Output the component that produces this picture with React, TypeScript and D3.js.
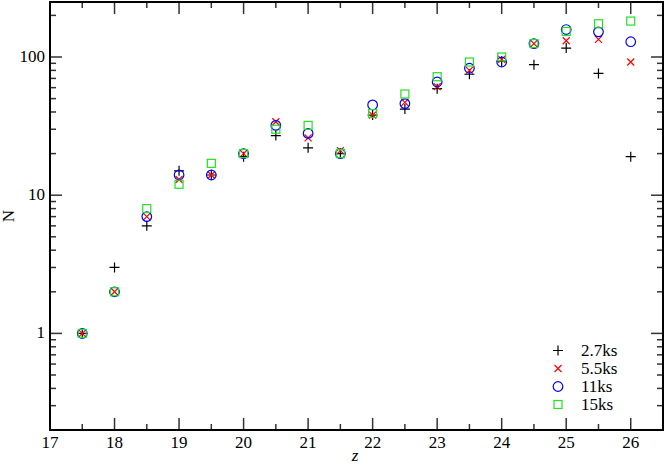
import React from 'react';
import * as d3 from 'd3';

const zBins = [17.5, 18, 18.5, 19, 19.5, 20, 20.5, 21, 21.5, 22, 22.5, 23, 23.5, 24, 24.5, 25, 25.5, 26];
const n27 = [1, 3, 6, 15, 14, 19, 27, 22, 20, 38, 42, 59, 75, 93, 88, 116, 76, 19];
const n55 = [1, 2, 7, 13, 14, 20, 34, 26, 21, 38, 47, 61, 80, 96, 125, 131, 134, 92];
const n11 = [1, 2, 7, 14, 14, 20, 32, 28, 20, 45, 46, 66, 83, 92, 125, 158, 152, 129];
const n15 = [1, 2, 8, 12, 17, 20, 30, 32, 20, 39, 54, 72, 92, 100, 125, 153, 174, 182];

const seriesNames = ['2.7ks', '5.5ks', '11ks', '15ks'];
const seriesColors = ['#000000', '#ff0000', '#0000ff', '#22e022'];
const seriesShapes = ['plus', 'cross', 'circle', 'square'];
const seriesData = [n27, n55, n11, n15];

const xTicks = [17, 18, 19, 20, 21, 22, 23, 24, 25, 26];
const yTicks = [1, 10, 100];

const W = 665;
const H = 465;
const margin = { left: 50, right: 2, top: 2, bottom: 35 };

const Marker = ({ shape, x, y, color }: { shape: string; x: number; y: number; color: string }) => {
  if (shape === 'plus') {
    return <path d={`M${x - 5},${y}H${x + 5}M${x},${y - 5}V${y + 5}`} stroke={color} strokeWidth={1.2} fill="none" />;
  }
  if (shape === 'cross') {
    return <path d={`M${x - 3.5},${y - 3.5}L${x + 3.5},${y + 3.5}M${x - 3.5},${y + 3.5}L${x + 3.5},${y - 3.5}`} stroke={color} strokeWidth={1.2} fill="none" />;
  }
  if (shape === 'circle') {
    return <circle cx={x} cy={y} r={4.8} stroke={color} strokeWidth={1.2} fill="none" />;
  }
  return <rect x={x - 4} y={y - 4} width={8} height={8} stroke={color} strokeWidth={1.2} fill="none" />;
};

export default function App() {
  const x = d3.scaleLinear().domain([17, 26.5]).range([margin.left, W - margin.right]);
  const y = d3.scaleLog().domain([0.2, 250]).range([H - margin.bottom, margin.top]);

  const minorX = d3.range(17.5, 26.5, 1);
  const minorY: number[] = [];
  [0.1, 1, 10, 100].forEach((d) => {
    for (let k = 2; k <= 9; k++) {
      const v = d * k;
      if (v >= 0.2 && v <= 250) minorY.push(v);
    }
  });

  const left = margin.left;
  const right = W - margin.right;
  const top = margin.top;
  const bottom = H - margin.bottom;
  const tickColor = '#333';

  return (
    <>
      <style>{`body { margin: 0; } .chart text { font-family: "Liberation Serif", serif; }`}</style>
      <svg className="chart" width={W} height={H} style={{ display: 'block', background: '#fff' }}>
        {/* ticks, drawn on all four sides */}
        <g stroke={tickColor} strokeWidth={1.5}>
          {xTicks.map((t) => (
            <g key={'xt' + t}>
              <line x1={x(t)} x2={x(t)} y1={bottom} y2={bottom - 12} />
              <line x1={x(t)} x2={x(t)} y1={top} y2={top + 12} />
            </g>
          ))}
          {minorX.map((t) => (
            <g key={'xm' + t}>
              <line x1={x(t)} x2={x(t)} y1={bottom} y2={bottom - 6} />
              <line x1={x(t)} x2={x(t)} y1={top} y2={top + 6} />
            </g>
          ))}
          {yTicks.map((t) => (
            <g key={'yt' + t}>
              <line x1={left} x2={left + 12} y1={y(t)} y2={y(t)} />
              <line x1={right} x2={right - 12} y1={y(t)} y2={y(t)} />
            </g>
          ))}
          {minorY.map((t) => (
            <g key={'ym' + t}>
              <line x1={left} x2={left + 6} y1={y(t)} y2={y(t)} />
              <line x1={right} x2={right - 6} y1={y(t)} y2={y(t)} />
            </g>
          ))}
        </g>
        <rect x={left} y={top} width={right - left} height={bottom - top} fill="none" stroke="#000" strokeWidth={2} />

        {/* tick labels */}
        <g fill="#000">
          {xTicks.map((t) => (
            <text key={'xl' + t} fontFamily="Liberation Serif" fontSize={17} x={x(t)} y={bottom + 18} textAnchor="middle">{t}</text>
          ))}
          {yTicks.map((t) => (
            <text key={'yl' + t} fontFamily="Liberation Serif" fontSize={17} x={left - 5} y={y(t) + 5} textAnchor="end">{t}</text>
          ))}
        </g>
        <text fontFamily="Liberation Serif" x={355} y={H - 4} fontSize={17} fontStyle="italic" textAnchor="middle">z</text>
        <text fontFamily="Liberation Serif" transform={`translate(14,${(top + bottom) / 2}) rotate(-90)`} fontSize={17} textAnchor="middle">N</text>

        {/* data */}
        {seriesData.map((vals, si) => (
          <g key={seriesNames[si]}>
            {vals.map((v, i) => (
              <Marker key={i} shape={seriesShapes[si]} x={x(zBins[i])} y={y(v)} color={seriesColors[si]} />
            ))}
          </g>
        ))}

        {/* legend */}
        {seriesNames.map((name, i) => (
          <g key={'lg' + name}>
            <Marker shape={seriesShapes[i]} x={558} y={350.5 + i * 18} color={seriesColors[i]} />
            <text fontFamily="Liberation Serif" x={581} y={356 + i * 18} fontSize={17}>{name}</text>
          </g>
        ))}
      </svg>
    </>
  );
}
